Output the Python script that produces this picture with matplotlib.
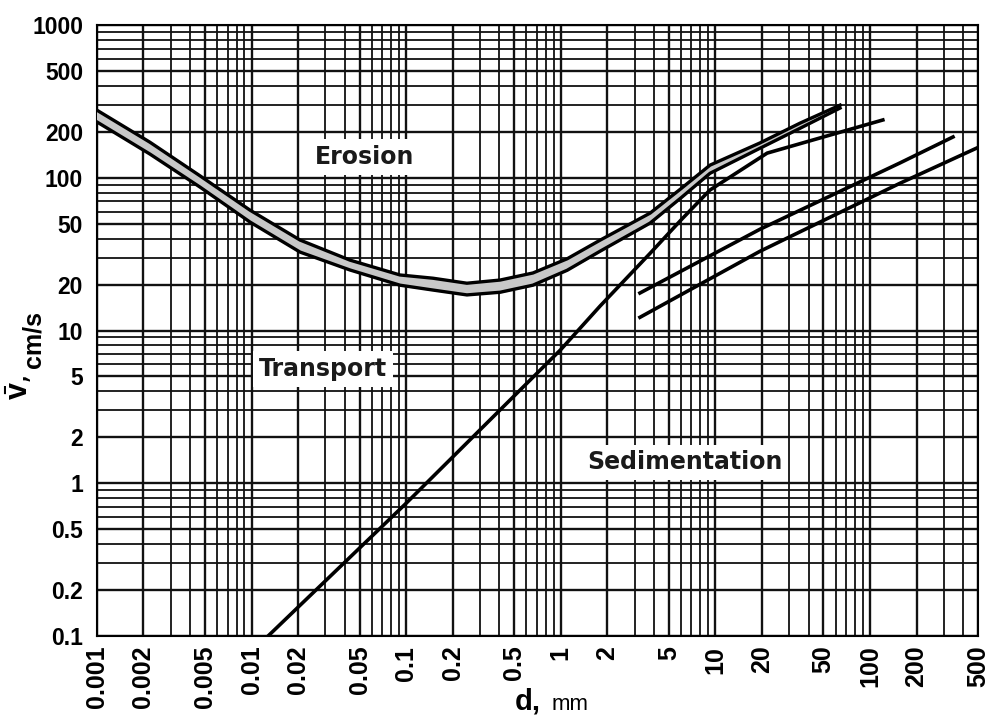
import matplotlib.pyplot as plt
import numpy as np

plt.rcParams['mathtext.fontset'] = 'custom'
plt.rcParams['mathtext.bf'] = 'Liberation Sans:bold'
plt.rcParams['mathtext.rm'] = 'Liberation Sans'

# erosion band (upper and lower boundary), d in mm, v in cm/s
d_band = [0.001, 0.0022, 0.00464, 0.00977, 0.0206, 0.0433, 0.0912, 0.149,
          0.247, 0.405, 0.66, 1.1, 1.8, 3.78, 6.0, 9.23, 19.4, 35.3, 64.0]
v_upper = [277, 171, 103, 61.4, 39.1, 28.9, 23.1, 22.0,
           20.4, 21.4, 23.8, 29.5, 39.1, 58.7, 85, 121, 169, 228, 299]
v_lower = [232, 143, 86.9, 51.3, 32.6, 24.9, 19.8, 18.4,
           17.1, 17.8, 19.8, 24.8, 33.1, 50.5, 74, 107, 156, 211, 286]

# sedimentation / transport boundary
d_sed = [0.0128, 0.1, 1.0, 1.8, 3.78, 6.0, 9.2, 21.6, 50, 121]
v_sed = [0.1, 0.74, 7.5, 14.5, 32, 53, 83, 145, 185, 239]

# two lines for coarse material
d_c1 = [3.25, 19.4, 156, 344]
v_c1 = [17.6, 46, 125, 185]
d_c2 = [3.25, 19.4, 156, 500]
v_c2 = [12.2, 33, 92, 158]

xticks = [0.001, 0.002, 0.005, 0.01, 0.02, 0.05, 0.1, 0.2, 0.5, 1, 2, 5,
          10, 20, 50, 100, 200, 500]
xlabels = ['0.001', '0.002', '0.005', '0.01', '0.02', '0.05', '0.1', '0.2',
           '0.5', '1', '2', '5', '10', '20', '50', '100', '200', '500']
yticks = [0.1, 0.2, 0.5, 1, 2, 5, 10, 20, 50, 100, 200, 500, 1000]
ylabels = ['0.1', '0.2', '0.5', '1', '2', '5', '10', '20', '50', '100',
           '200', '500', '1000']

fig = plt.figure(figsize=(9.89, 7.15), dpi=100)
ax = fig.add_axes([0.098, 0.1105, 0.891, 0.8545])
ax.set_xscale('log')
ax.set_yscale('log')
ax.set_xlim(0.001, 500)
ax.set_ylim(0.1, 1000)

ax.set_axisbelow(True)
ax.grid(which='major', color='#111111', lw=1.7)
ax.grid(which='minor', color='#111111', lw=1.3)

ax.fill_between(d_band, v_lower, v_upper, color='#c8c8c8', zorder=3)
ax.plot(d_band, v_upper, color='black', lw=2.4, zorder=4)
ax.plot(d_band, v_lower, color='black', lw=2.4, zorder=4)
ax.plot(d_sed, v_sed, color='black', lw=2.6, zorder=4)
ax.plot(d_c1, v_c1, color='black', lw=2.6, zorder=4)
ax.plot(d_c2, v_c2, color='black', lw=2.6, zorder=4)

ax.set_xticks(xticks)
ax.set_xticklabels(xlabels, rotation=90, fontsize=18, fontweight='bold',
                   family='Liberation Sans')
ax.set_yticks(yticks)
ax.set_yticklabels(ylabels, fontsize=16.5, fontweight='bold',
                   family='Liberation Sans')
ax.minorticks_on()
ax.tick_params(which='both', length=0)
ax.tick_params(axis='x', pad=7)
ax.tick_params(axis='y', pad=10)
for s in ax.spines.values():
    s.set_linewidth(1.5)

box = dict(facecolor='white', edgecolor='none', pad=4)
lab = dict(fontsize=17, fontweight='bold', family='DejaVu Sans',
           ha='center', va='center', color='#1a1a1a', bbox=box, zorder=6)
ax.text(0.054, 137, 'Erosion', **lab)
ax.text(0.029, 5.6, 'Transport', **lab)
ax.text(6.35, 1.37, 'Sedimentation', **lab)

# axis titles
fig.text(0.019, 0.458, r'$\bar{\mathbf{v}}$,', rotation=90, fontsize=22,
         ha='center', va='center')
fig.text(0.034, 0.525, 'cm/s', rotation=90, fontsize=18, fontweight='bold',
         family='Liberation Sans', ha='center', va='center')
fig.text(0.534, 0.007, 'd,', fontsize=21, fontweight='bold',
         family='Liberation Sans', ha='center', va='baseline')
fig.text(0.576, 0.007, 'mm', fontsize=16, family='Liberation Sans',
         ha='center', va='baseline')

fig.savefig('out.png', dpi=100)
